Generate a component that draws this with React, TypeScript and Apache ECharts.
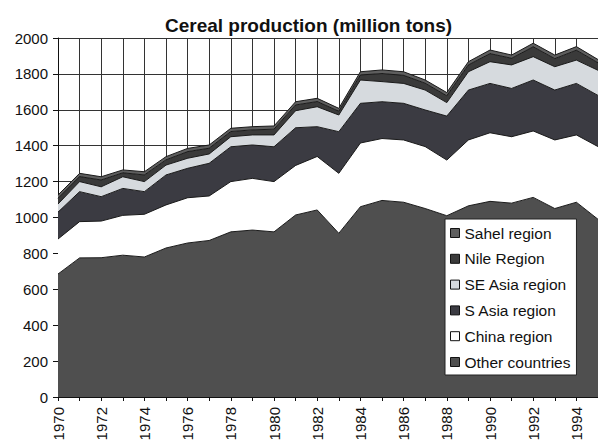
import React, { useEffect, useRef } from "react";
import * as echarts from "echarts";

const years: string[] = [
  "1970", "1971", "1972", "1973", "1974", "1975", "1976", "1977", "1978", "1979",
  "1980", "1981", "1982", "1983", "1984", "1985", "1986", "1987", "1988", "1989",
  "1990", "1991", "1992", "1993", "1994", "1995",
];

const otherCountries: number[] = [
  685, 775, 776, 790, 780, 830, 858, 872, 920, 930,
  920, 1014, 1042, 912, 1060, 1095, 1085, 1050, 1010, 1065,
  1090, 1080, 1112, 1050, 1085, 990,
];
const chinaRegion: number[] = [
  195, 202, 204, 222, 238, 240, 252, 248, 280, 288,
  280, 276, 298, 334, 355, 345, 347, 345, 310, 367,
  382, 370, 370, 382, 375, 405,
];
const sAsiaRegion: number[] = [
  150, 167, 136, 150, 126, 167, 164, 182, 194, 186,
  194, 210, 166, 232, 221, 205, 204, 204, 245, 278,
  275, 269, 284, 278, 287, 285,
];
const seAsiaRegion: number[] = [
  45, 56, 55, 65, 56, 55, 56, 52, 56, 56,
  66, 95, 111, 93, 130, 112, 111, 111, 75, 102,
  121, 131, 130, 130, 130, 140,
];
const nileRegion: number[] = [
  32, 28, 38, 22, 37, 29, 37, 32, 29, 28,
  32, 32, 29, 21, 28, 45, 45, 38, 38, 38,
  45, 37, 55, 45, 55, 42,
];
const sahelRegion: number[] = [
  18, 18, 18, 16, 18, 18, 18, 18, 18, 18,
  18, 18, 18, 16, 18, 20, 20, 18, 18, 18,
  20, 18, 20, 20, 20, 18,
];

const yTicks = { min: 0, max: 2000, step: 200 };

const seriesDefs = [
  { name: "Other countries", data: otherCountries, color: "#4f4f4f" },
  { name: "China region", data: chinaRegion, color: "#ffffff" },
  { name: "S Asia region", data: sAsiaRegion, color: "#3b3b42" },
  { name: "SE Asia region", data: seAsiaRegion, color: "#d6dade" },
  { name: "Nile Region", data: nileRegion, color: "#3a3a3a" },
  { name: "Sahel region", data: sahelRegion, color: "#5e5e5e" },
];

const legendOrder = [
  "Sahel region", "Nile Region", "SE Asia region", "S Asia region", "China region", "Other countries",
];

const FONT = "Liberation Sans, Arial, sans-serif";

export default function App() {
  const ref = useRef<HTMLDivElement>(null);
  useEffect(() => {
    if (!ref.current) return;
    const chart = echarts.init(ref.current, null, { renderer: "svg" });
    chart.setOption({
      animation: false,
      backgroundColor: "#ffffff",
      title: {
        text: "Cereal production (million tons)",
        left: 160,
        top: 11,
        textStyle: { fontFamily: FONT, fontSize: 19, fontWeight: "bold", color: "#111" },
      },
      legend: {
        orient: "vertical",
        left: 445,
        top: 219,
        padding: [6, 6, 5, 5],
        itemWidth: 9,
        itemHeight: 9,
        itemGap: 9.8,
        itemTextGap: 4,
        icon: "rect",
        backgroundColor: "#ffffff",
        borderColor: "#222",
        borderWidth: 1,
        borderRadius: 0,
        itemStyle: { borderColor: "#111", borderWidth: 1 },
        textStyle: { fontFamily: FONT, fontSize: 15.5, color: "#111" },
        data: legendOrder,
      },
      grid: { left: 58, top: 38, width: 545, height: 359, containLabel: false },
      xAxis: {
        type: "category",
        boundaryGap: false,
        data: years,
        axisLine: { show: true, lineStyle: { color: "#111", width: 1 } },
        axisTick: { show: true, interval: 0, length: 4, lineStyle: { color: "#111" } },
        axisLabel: {
          interval: 1,
          rotate: 90,
          margin: 10,
          fontFamily: FONT,
          fontSize: 15,
          color: "#111",
        },
        splitLine: { show: true, interval: 0, lineStyle: { color: "#333", width: 1 } },
      },
      yAxis: {
        type: "value",
        min: yTicks.min,
        max: yTicks.max,
        interval: yTicks.step,
        axisLine: { show: true, lineStyle: { color: "#111", width: 1 } },
        axisTick: { show: true, length: 5, lineStyle: { color: "#111" } },
        axisLabel: {
          margin: 10,
          fontFamily: FONT,
          fontSize: 15,
          color: "#111",
          formatter: (v: number) => String(v),
        },
        splitLine: { show: true, lineStyle: { color: "#333", width: 1 } },
      },
      series: seriesDefs.map((s) => ({
        name: s.name,
        type: "line",
        stack: "total",
        data: s.data,
        symbol: "none",
        itemStyle: { color: s.color },
        lineStyle: { color: "#1a1a1a", width: 1 },
        areaStyle: { color: s.color, opacity: 1 },
      })),
    });
    return () => chart.dispose();
  }, []);
  return (
    <div
      ref={ref}
      style={{ position: "fixed", left: 0, top: 0, width: 598, height: 448 }}
    />
  );
}
